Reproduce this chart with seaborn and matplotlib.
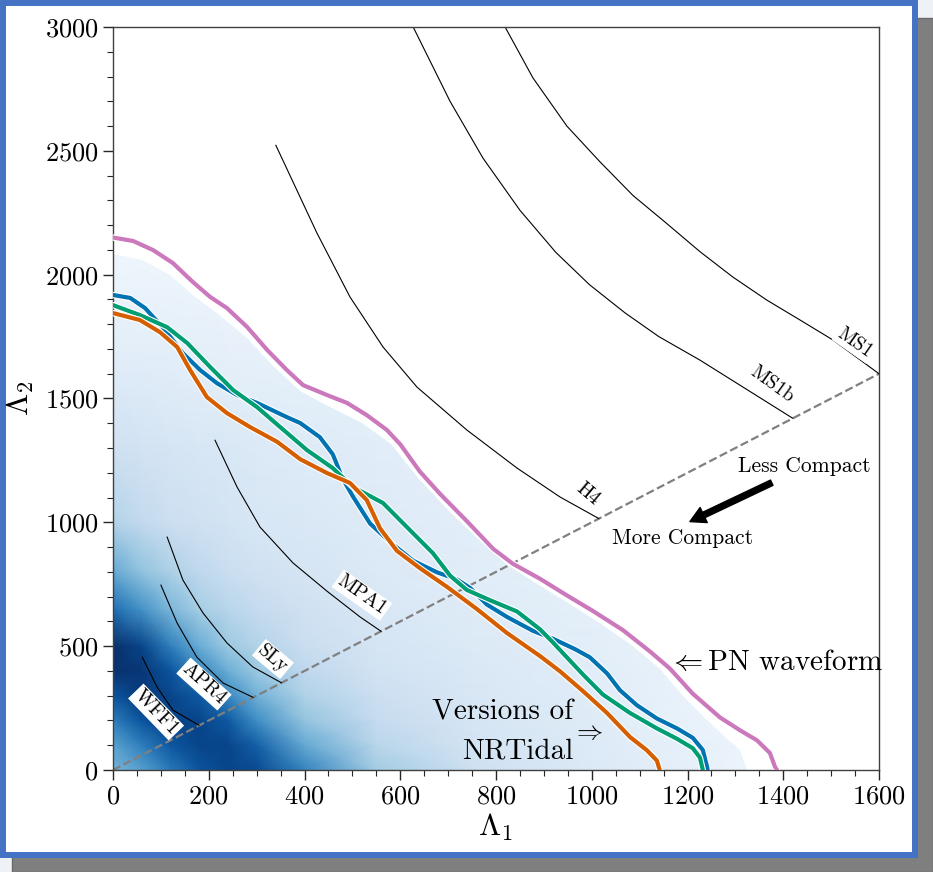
"""Plano Λ1–Λ2: densidade de fundo, contornos NRTidal / PN e curvas de EOS."""

import matplotlib

matplotlib.use("Agg")

import matplotlib.patheffects as pe
import matplotlib.pyplot as plt
import numpy as np
import seaborn as sns
from matplotlib.patches import Polygon, Rectangle
from matplotlib.ticker import MultipleLocator

# --- densidade de fundo (escala 0..1 do mapa Blues)
DENS_L1 = [0, 60, 120, 180, 240, 300, 400, 550, 750, 1000, 1300, 1600]
DENS_L2 = [0, 100, 200, 300, 400, 500, 650, 800, 1000, 1300, 1700, 2100, 3000]
DENS = [
    [0.48, 0.56, 0.72, 0.86, 0.92, 0.90, 0.68, 0.36, 0.21, 0.14, 0.06, 0.03],
    [0.55, 0.70, 0.85, 0.92, 0.92, 0.82, 0.52, 0.29, 0.18, 0.13, 0.06, 0.03],
    [0.70, 0.86, 0.93, 0.92, 0.84, 0.64, 0.40, 0.25, 0.17, 0.12, 0.05, 0.03],
    [0.86, 0.95, 0.92, 0.84, 0.66, 0.49, 0.32, 0.22, 0.155, 0.115, 0.05, 0.03],
    [0.99, 0.97, 0.86, 0.67, 0.50, 0.38, 0.27, 0.19, 0.145, 0.11, 0.05, 0.02],
    [1.00, 0.92, 0.70, 0.51, 0.38, 0.31, 0.23, 0.175, 0.135, 0.10, 0.04, 0.02],
    [0.76, 0.62, 0.46, 0.35, 0.29, 0.25, 0.20, 0.155, 0.12, 0.095, 0.04, 0.02],
    [0.52, 0.41, 0.33, 0.27, 0.23, 0.20, 0.17, 0.14, 0.11, 0.09, 0.03, 0.02],
    [0.31, 0.26, 0.22, 0.20, 0.18, 0.16, 0.145, 0.125, 0.10, 0.08, 0.03, 0.02],
    [0.20, 0.185, 0.17, 0.16, 0.15, 0.14, 0.125, 0.11, 0.09, 0.07, 0.03, 0.02],
    [0.10, 0.10, 0.095, 0.09, 0.085, 0.08, 0.075, 0.07, 0.06, 0.05, 0.03, 0.02],
    [0.04, 0.04, 0.04, 0.04, 0.035, 0.035, 0.03, 0.03, 0.03, 0.02, 0.02, 0.02],
    [0.0, 0.0, 0.0, 0.0, 0.0, 0.0, 0.0, 0.0, 0.0, 0.0, 0.0, 0.0],
]
# borda externa da região sombreada
EDGE_L1 = [0, 0, 60, 120, 170, 220, 280, 330, 390, 450, 520, 580, 640, 700,
           760, 820, 880, 950, 1020, 1080, 1140, 1190, 1240, 1280, 1310, 1325]
EDGE_L2 = [0, 2085, 2060, 2000, 1915, 1840, 1745, 1640, 1530, 1470, 1400, 1315,
           1175, 1050, 935, 830, 760, 675, 590, 510, 410, 300, 200, 130, 80, 0]

# --- contornos (PN e versões do NRTidal)
PN_L1 = [0, 42, 84, 125, 167, 203, 238, 280, 322, 363, 397, 447, 489, 530, 572,
         600, 641, 683, 739, 794, 835, 892, 948, 1000, 1065, 1122, 1163, 1211,
         1268, 1310, 1345, 1372, 1383, 1387]
PN_L2 = [2150, 2136, 2099, 2047, 1970, 1910, 1865, 1789, 1696, 1615, 1554,
         1514, 1482, 1433, 1373, 1315, 1205, 1115, 1005, 893, 833, 772, 705,
         645, 565, 478, 410, 308, 212, 160, 120, 69, 12, 0]

NRT1_L1 = [0, 36, 67, 109, 146, 182, 217, 259, 301, 363, 391, 432, 459, 480,
           501, 537, 579, 627, 677, 718, 746, 781, 823, 877, 919, 965, 996,
           1032, 1059, 1094, 1136, 1178, 1211, 1232, 1241, 1242]
NRT1_L2 = [1918, 1906, 1865, 1776, 1683, 1615, 1562, 1514, 1482, 1425, 1401,
           1344, 1275, 1175, 1105, 995, 920, 845, 798, 770, 735, 668, 618, 562,
           530, 488, 455, 390, 322, 262, 208, 168, 130, 81, 12, 0]

NRT2_L1 = [0, 56, 113, 155, 203, 251, 301, 349, 405, 459, 501, 564, 620, 668,
           704, 739, 787, 844, 892, 919, 948, 982, 1023, 1080, 1136, 1178, 1211,
           1226, 1232]
NRT2_L2 = [1877, 1837, 1788, 1724, 1627, 1534, 1465, 1385, 1292, 1219, 1143,
           1078, 969, 876, 785, 727, 686, 640, 568, 515, 455, 385, 305, 230,
           168, 126, 88, 50, 0]

NRT3_L1 = [0, 56, 98, 134, 161, 196, 238, 286, 343, 391, 447, 495, 530, 558,
           593, 641, 698, 760, 823, 892, 934, 982, 1032, 1080, 1115, 1136, 1142]
NRT3_L2 = [1845, 1817, 1768, 1708, 1615, 1506, 1441, 1385, 1325, 1255, 1199,
           1159, 1090, 975, 885, 815, 739, 650, 553, 460, 398, 318, 230, 133,
           80, 38, 0]

# --- curvas de EOS (terminam na linha Λ1 = Λ2)
EOS = {
    "MS1": ([819, 877, 948, 1017, 1086, 1157, 1226, 1295, 1366, 1435, 1504, 1600],
            [3000, 2795, 2600, 2456, 2320, 2206, 2093, 1990, 1897, 1817, 1736, 1600]),
    "MS1b": ([627, 704, 773, 850, 925, 995, 1070, 1140, 1226, 1316, 1420],
             [3000, 2700, 2470, 2260, 2090, 1960, 1845, 1750, 1655, 1546, 1420]),
    "H4": ([340, 426, 495, 564, 635, 739, 844, 934, 1015],
           [2523, 2168, 1910, 1708, 1546, 1373, 1219, 1102, 1015]),
    "MPA1": ([213, 259, 307, 376, 447, 516, 560],
             [1332, 1143, 981, 836, 722, 618, 560]),
    "SLy": ([113, 146, 188, 238, 292, 352], [941, 767, 634, 513, 416, 352]),
    "APR4": ([100, 134, 175, 230, 293], [747, 593, 456, 351, 293]),
    "WFF1": ([61, 92, 125, 180], [456, 335, 242, 180]),
}
# posição (centro) e rotação dos rótulos
EOS_LABEL = {
    "MS1": (1550, 1724, -35),
    "MS1b": (1376, 1558, -36),
    "H4": (992, 1115, -40),
    "MPA1": (520, 706, -35),
    "SLy": (334, 448, -40),
    "APR4": (190, 347, -42),
    "WFF1": (90, 234, -46),
}
EQUAL_L = [0, 1600]

sns.set_theme(style="ticks")
plt.rcParams["font.family"] = ["cmr10", "DejaVu Serif"]
plt.rcParams["mathtext.fontset"] = "cm"
plt.rcParams["axes.formatter.use_mathtext"] = True
plt.rcParams["axes.unicode_minus"] = False
plt.rcParams["text.color"] = "black"
plt.rcParams["axes.labelcolor"] = "black"

pal = sns.color_palette("colorblind")
C_BLUE, C_GREEN, C_ORANGE, C_PINK = pal[0], pal[2], pal[3], pal[4]

fig = plt.figure(figsize=(9.33, 8.72), dpi=100, facecolor="#eef1f6")

# moldura com sombra
fig.add_artist(Rectangle((12 / 933, 0), 921 / 933, 1 - 18 / 872,
                         transform=fig.transFigure, facecolor="#7f7f7f",
                         edgecolor="#6a6a6a", lw=1.0, zorder=-3))
fig.add_artist(Rectangle((3 / 933, 1 - 855 / 872), 912 / 933, 852 / 872,
                         transform=fig.transFigure, facecolor="white",
                         edgecolor="#4472c4", lw=4.3, zorder=-2))

ax = fig.add_axes([113 / 933, 1 - 770 / 872, 766 / 933, 743 / 872])
ax.set_facecolor("white")

# 1) densidade
mesh = ax.pcolormesh(DENS_L1, DENS_L2, np.array(DENS), shading="gouraud",
                     cmap="Blues", vmin=0, vmax=1, zorder=0)
clip = Polygon(np.column_stack([EDGE_L1, EDGE_L2]), closed=True,
               transform=ax.transData)
mesh.set_clip_path(clip)

# 2) linha de massas iguais
sns.lineplot(x=EQUAL_L, y=EQUAL_L, color="#808080", lw=1.6, ls="--",
             estimator=None, sort=False, ax=ax, zorder=2)

# 3) curvas de EOS
for name, (l1, l2) in EOS.items():
    sns.lineplot(x=l1, y=l2, color="black", lw=0.8, estimator=None,
                 sort=False, ax=ax, zorder=2, solid_joinstyle="round")
    lx, ly, rot = EOS_LABEL[name]
    ax.text(lx, ly, name, fontsize=14, rotation=rot, ha="center",
            va="center", rotation_mode="anchor", zorder=4,
            bbox=dict(facecolor="white", edgecolor="none", pad=1.2))

# 4) contornos
halo = [pe.withStroke(linewidth=4.6, foreground="white")]
for l1, l2, c in [
    (NRT1_L1, NRT1_L2, C_BLUE),
    (NRT2_L1, NRT2_L2, C_GREEN),
    (NRT3_L1, NRT3_L2, C_ORANGE),
    (PN_L1, PN_L2, C_PINK),
]:
    sns.lineplot(x=l1, y=l2, color=c, lw=3.0, estimator=None, sort=False,
                 ax=ax, zorder=3, path_effects=halo, solid_joinstyle="round")

# 5) anotações
ax.text(1159, 432, r"$\Leftarrow$PN waveform", fontsize=21, ha="left",
        va="center", zorder=5)
ax.text(961, 232, "Versions of", fontsize=21, ha="right", va="center",
        zorder=5)
ax.text(992, 152, r"$\Rightarrow$", fontsize=19, ha="center", va="center",
        zorder=5)
ax.text(961, 77, "NRTidal", fontsize=21, ha="right", va="center", zorder=5)
ax.text(1305, 1227, "Less Compact", fontsize=15.5, ha="left", va="center",
        zorder=5)
ax.text(1042, 937, "More Compact", fontsize=15.5, ha="left", va="center",
        zorder=5)
ax.annotate("", xy=(1205, 1003), xytext=(1376, 1160),
            arrowprops=dict(facecolor="black", edgecolor="black", width=4.2,
                            headwidth=12, headlength=11, shrink=0),
            zorder=5)

ax.set_xlim(0, 1600)
ax.set_ylim(0, 3000)
ax.xaxis.set_major_locator(MultipleLocator(200))
ax.xaxis.set_minor_locator(MultipleLocator(50))
ax.yaxis.set_major_locator(MultipleLocator(500))
ax.yaxis.set_minor_locator(MultipleLocator(100))
ax.tick_params(which="major", direction="out", length=7, width=1,
               labelsize=19, colors="0.15", labelcolor="black")
ax.tick_params(which="minor", direction="out", length=4, width=0.8,
               colors="0.15")
for sp in ax.spines.values():
    sp.set_visible(True)
    sp.set_color("0.25")
    sp.set_linewidth(1.0)
ax.set_xlabel(r"$\Lambda_1$", fontsize=23, labelpad=2)
ax.set_ylabel(r"$\Lambda_2$", fontsize=23, labelpad=6)

fig.savefig("out.png", dpi=100, facecolor=fig.get_facecolor())
